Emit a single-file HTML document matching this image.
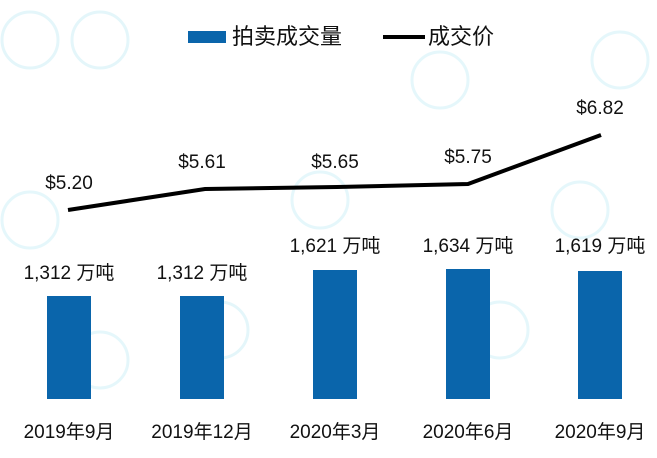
<!DOCTYPE html>
<html><head><meta charset="utf-8"><style>
body{margin:0;background:#fff}
svg text{font-family:"Liberation Sans","Noto Sans CJK SC",sans-serif;fill:#111}
</style></head><body>
<svg width="657" height="453" xmlns="http://www.w3.org/2000/svg">
<g fill="none" stroke="#d3f1f8" stroke-width="3" opacity="0.6">
<circle cx="30" cy="40" r="28"/><circle cx="100" cy="40" r="28"/>
<circle cx="30" cy="220" r="28"/><circle cx="100" cy="360" r="28"/>
<circle cx="320" cy="200" r="28"/><circle cx="440" cy="80" r="28"/>
<circle cx="620" cy="60" r="28"/><circle cx="580" cy="210" r="28"/>
<circle cx="220" cy="330" r="28"/><circle cx="500" cy="330" r="28"/>
</g>
<rect x="188" y="31" width="38" height="12" fill="#0a65ab"/>
<text x="232" y="44" font-size="22">拍卖成交量</text>
<line x1="383" y1="37" x2="425" y2="37" stroke="#000" stroke-width="4"/>
<text x="428" y="44" font-size="22">成交价</text>
<g fill="#0a65ab">
<rect x="47" y="296" width="44" height="103"/>
<rect x="180" y="296" width="44" height="103"/>
<rect x="313" y="270" width="44" height="129"/>
<rect x="446" y="269" width="44" height="130"/>
<rect x="578" y="271" width="44" height="128"/>
</g>
<polyline points="68,210 205,189 337,187 468,184 601,135" fill="none" stroke="#000" stroke-width="4"/>
<g font-size="19" text-anchor="middle">
<text x="69" y="189">$5.20</text>
<text x="202" y="168">$5.61</text>
<text x="335" y="168">$5.65</text>
<text x="468" y="163">$5.75</text>
<text x="600" y="114">$6.82</text>
<text x="69" y="279">1,312 万吨</text>
<text x="202" y="279">1,312 万吨</text>
<text x="335" y="252">1,621 万吨</text>
<text x="468" y="252">1,634 万吨</text>
<text x="600" y="252">1,619 万吨</text>
<text x="69" y="438">2019年9月</text>
<text x="202" y="438">2019年12月</text>
<text x="335" y="438">2020年3月</text>
<text x="468" y="438">2020年6月</text>
<text x="600" y="438">2020年9月</text>
</g>
</svg>
</body></html>
